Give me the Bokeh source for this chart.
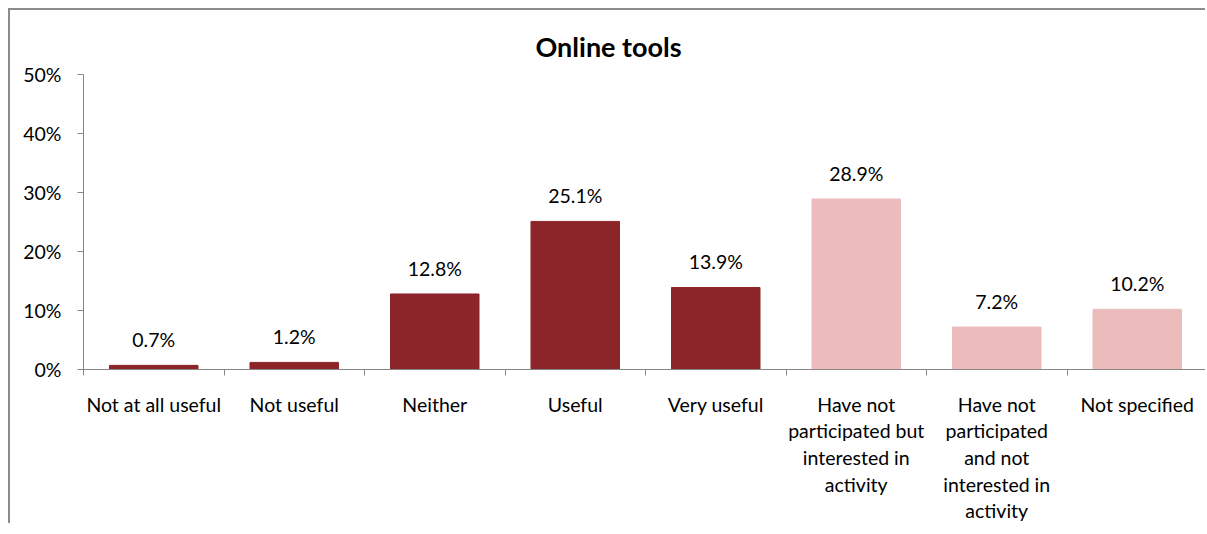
from bokeh.plotting import figure
from bokeh.models import (Range1d, FixedTicker, PrintfTickFormatter, ColumnDataSource, LabelSet)
from bokeh.core.properties import value
from bokeh.embed import file_html
from bokeh.resources import INLINE

# ---- data ----
categories = [
    "Not at all useful",
    "Not useful",
    "Neither",
    "Useful",
    "Very useful",
    "Have not\nparticipated but\ninterested in\nactivity",
    "Have not\nparticipated\nand not\ninterested in\nactivity",
    "Not specified",
]
values = [0.7, 1.2, 12.8, 25.1, 13.9, 28.9, 7.2, 10.2]
groups = ["rated", "rated", "rated", "rated", "rated", "other", "other", "other"]
y_ticks = [0, 10, 20, 30, 40, 50]
title_text = "Online tools"

# ---- styling ----
DARK = "#8B252A"
PINK = "#ECBCBD"
AX = "#868686"
FONT = "Lato"
FS = "19.5px"

n = len(categories)
centers = [i + 0.5 for i in range(n)]          # category slot centres
edges = list(range(n + 1))                      # category slot boundaries
colors = [DARK if g == "rated" else PINK for g in groups]
labels = [f"{v:.1f}%" for v in values]
src = ColumnDataSource(dict(x=centers, val=values, color=colors, label=labels))

p = figure(width=1197, height=515,
           x_range=Range1d(0, n), y_range=Range1d(0, 50),
           output_backend="svg", toolbar_location=None,
           min_border_left=73, min_border_right=0, min_border_top=64, min_border_bottom=0)
p.styles = {"margin-left": "8px", "margin-top": "8px",
            "border-top": "2px solid #8C8C8C", "border-left": "2px solid #8C8C8C",
            "border-right": "none", "border-bottom": "none"}
p.outline_line_color = None
p.grid.visible = False
p.background_fill_color = "white"
p.border_fill_color = "white"

# title
p.title.text = title_text
p.title.text_font = FONT
p.title.text_font_style = "bold"
p.title.text_font_size = "27px"
p.title.text_color = "black"
p.title.align = "left"
p.title.offset = 452
p.title.standoff = 24

# bars
p.vbar(x="x", top="val", width=0.63, source=src, fill_color="color", line_color="color")

# data labels
p.add_layout(LabelSet(x="x", y="val", text="label", source=src,
                      text_align="center", text_baseline="alphabetic", y_offset=18,
                      text_font=value(FONT), text_font_size=value(FS), text_color="black"))

# y axis
ya = p.yaxis[0]
ya.ticker = FixedTicker(ticks=y_ticks)
ya.formatter = PrintfTickFormatter(format="%d%%")
ya.axis_line_color = AX
ya.major_tick_line_color = AX
ya.major_tick_out = 6
ya.major_tick_in = 0
ya.minor_tick_line_color = None
ya.major_label_standoff = 16
ya.major_label_text_font = FONT
ya.major_label_text_font_size = FS
ya.major_label_text_color = "black"

# x axis: labels at slot centres, tick marks (minor) at slot boundaries
xa = p.xaxis[0]
xa.ticker = FixedTicker(ticks=centers, minor_ticks=edges)
xa.major_label_overrides = {c: lab for c, lab in zip(centers, categories)}
xa.axis_line_color = AX
xa.major_tick_line_color = None
xa.major_tick_out = 6
xa.major_tick_in = 0
xa.minor_tick_line_color = AX
xa.minor_tick_out = 6
xa.minor_tick_in = 0
xa.major_label_standoff = 17
xa.major_label_text_font = FONT
xa.major_label_text_font_size = FS
xa.major_label_text_color = "black"
xa.major_label_text_line_height = 1.16

open("out.html", "w").write(file_html(p, INLINE))
